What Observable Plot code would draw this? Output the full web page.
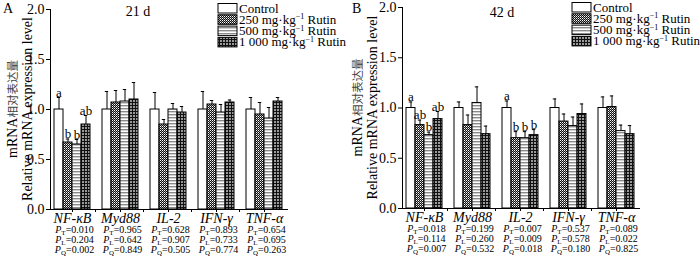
<!DOCTYPE html>
<html><head><meta charset="utf-8">
<script src="https://cdn.jsdelivr.net/npm/d3@7"></script>
<script src="https://cdn.jsdelivr.net/npm/@observablehq/plot@0.6"></script>
<style>
body{margin:0;background:#fff}
#fig{display:flex;width:700px;height:262px;overflow:hidden}
#fig svg{flex:none}
</style></head><body><div id="fig"></div>
<script>
// ---- categories ----
const genes = ["NF-κB", "Myd88", "IL-2", "IFN-γ", "TNF-α"];
const groups = ["Control", "250", "500", "1000"];
const legendDoses = ["250", "500", "1 000"];

// ---- 21 d (panel A) ----
const ctl21 = [1.00, 1.00, 1.00, 1.00, 1.00];
const ctl21Err = [0.12, 0.18, 0.17, 0.18, 0.12];
const r250_21 = [0.67, 1.07, 0.85, 1.05, 0.95];
const r250_21Err = [0.035, 0.12, 0.05, 0.04, 0.12];
const r500_21 = [0.65, 1.08, 1.00, 0.97, 0.91];
const r500_21Err = [0.05, 0.12, 0.06, 0.08, 0.11];
const r1000_21 = [0.85, 1.10, 0.97, 1.07, 1.08];
const r1000_21Err = [0.09, 0.17, 0.06, 0.025, 0.04];
const sig21 = [["a", "", "", "", ""], ["b", "", "", "", ""], ["b", "", "", "", ""], ["ab", "", "", "", ""]];
const pT21 = ["0.010", "0.965", "0.628", "0.893", "0.654"];
const pL21 = ["0.204", "0.642", "0.907", "0.733", "0.695"];
const pQ21 = ["0.002", "0.849", "0.505", "0.774", "0.263"];

// ---- 42 d (panel B) ----
const ctl42 = [1.00, 1.00, 1.00, 1.00, 1.00];
const ctl42Err = [0.06, 0.06, 0.07, 0.09, 0.11];
const r250_42 = [0.83, 0.83, 0.70, 0.865, 1.01];
const r250_42Err = [0.05, 0.10, 0.065, 0.075, 0.11];
const r500_42 = [0.73, 1.05, 0.70, 0.82, 0.77];
const r500_42Err = [0.03, 0.16, 0.065, 0.09, 0.06];
const r1000_42 = [0.89, 0.74, 0.73, 0.94, 0.74];
const r1000_42Err = [0.075, 0.08, 0.055, 0.10, 0.085];
const sig42 = [["a", "", "a", "", ""], ["ab", "", "b", "", ""], ["b", "", "b", "", ""], ["ab", "", "b", "", ""]];
const pT42 = ["0.018", "0.199", "0.007", "0.537", "0.089"];
const pL42 = ["0.114", "0.260", "0.009", "0.578", "0.022"];
const pQ42 = ["0.007", "0.532", "0.018", "0.180", "0.825"];

const yTicks = [0, 0.5, 1.0, 1.5, 2.0];
const SERIF = "'Liberation Serif','Times New Roman',serif";

function addPatterns(svg, p) {
  const defs = d3.select(svg).insert("defs", ":first-child");
  // 250: dark checker
  let pt = defs.append("pattern").attr("id", p + "250").attr("patternUnits", "userSpaceOnUse")
    .attr("width", 2).attr("height", 2).attr("shape-rendering", "crispEdges");
  pt.append("rect").attr("width", 2).attr("height", 2).attr("fill", "#111");
  pt.append("rect").attr("width", 1).attr("height", 1).attr("fill", "#fff");
  pt.append("rect").attr("x", 1).attr("y", 1).attr("width", 1).attr("height", 1).attr("fill", "#999");
  // 500: horizontal grey lines
  pt = defs.append("pattern").attr("id", p + "500").attr("patternUnits", "userSpaceOnUse")
    .attr("width", 4).attr("height", 3).attr("shape-rendering", "crispEdges");
  pt.append("rect").attr("width", 4).attr("height", 3).attr("fill", "#fff");
  pt.append("rect").attr("width", 4).attr("height", 1).attr("fill", "#8a8a8a");
  pt.append("rect").attr("y", 1).attr("width", 4).attr("height", 1).attr("fill", "#d0d0d0");
  // 1000: dark grid
  pt = defs.append("pattern").attr("id", p + "1000").attr("patternUnits", "userSpaceOnUse")
    .attr("width", 3).attr("height", 3).attr("shape-rendering", "crispEdges");
  pt.append("rect").attr("width", 3).attr("height", 3).attr("fill", "#9a9a9a");
  pt.append("rect").attr("width", 1).attr("height", 3).attr("fill", "#111");
  pt.append("rect").attr("width", 3).attr("height", 1).attr("fill", "#111");
}

function panel(o) {
  const rows = [];
  genes.forEach((g, i) => groups.forEach((k, j) =>
    rows.push({gene: g, grp: k, v: o.means[j][i], e: o.errs[j][i], lt: o.sig[j][i]})));
  const pRows = genes.map((g, i) => ({gene: g, t: "P_T=" + o.pT[i], l: "P_L=" + o.pL[i], q: "P_Q=" + o.pQ[i]}));
  const fillOf = {Control: "#ffffff", "250": `url(#${o.id}250)`, "500": `url(#${o.id}500)`, "1000": `url(#${o.id}1000)`};
  const bounds = genes.slice(0, -1).map(g => ({gene: g}));

  const svg = Plot.plot({
    width: 350, height: 262,
    marginLeft: o.ml, marginRight: o.mr, marginTop: o.mt, marginBottom: o.mb,
    style: {fontFamily: SERIF, fontSize: "14px", color: "black", background: "white", overflow: "visible"},
    fx: {domain: genes, paddingInner: 0.075, paddingOuter: 0, label: null, axis: null},
    x: {domain: groups, paddingInner: 0, paddingOuter: 0.3, axis: null},
    y: {domain: [0, 2], ticks: yTicks, tickFormat: d3.format(".1f"), tickSize: 4, tickPadding: 2, label: null, line: true},
    color: {type: "identity"},
    marks: [
      Plot.axisFx({anchor: "bottom", tickSize: 3, tickPadding: 1, label: null, fontSize: 14, fontStyle: "italic"}),
      Plot.barY(rows, {fx: "gene", x: "grp", y: "v", fill: d => fillOf[d.grp], stroke: "black", strokeWidth: 1}),
      Plot.ruleX(rows, {fx: "gene", x: "grp", y1: "v", y2: d => d.v + d.e, stroke: "black", strokeWidth: 1}),
      Plot.tickY(rows, {fx: "gene", x: "grp", y: d => d.v + d.e, stroke: "black", strokeWidth: 1, insetLeft: 2.8, insetRight: 2.8}),
      Plot.text(rows.filter(d => d.lt), {fx: "gene", x: "grp", y: d => d.v + d.e, text: "lt", dy: -1, lineAnchor: "bottom", fontSize: 13, fill: "#000"}),
      Plot.ruleY([0], {stroke: "black", strokeWidth: 1, insetLeft: -2, insetRight: -2}),
      Plot.ruleX(bounds, {fx: "gene", x: () => "1000", y1: 0, y2: -0.03, dx: 9.5, stroke: "black"}),
      Plot.text(pRows, {fx: "gene", text: "t", frameAnchor: "bottom", dy: 23, dx: 2, fontSize: 10, fill: "black"}),
      Plot.text(pRows, {fx: "gene", text: "l", frameAnchor: "bottom", dy: 33, dx: 2, fontSize: 10, fill: "black"}),
      Plot.text(pRows, {fx: "gene", text: "q", frameAnchor: "bottom", dy: 43, dx: 2, fontSize: 10, fill: "black"})
    ]
  });

  addPatterns(svg, o.id);
  const s = d3.select(svg);

  // P subscripts
  s.selectAll("text").each(function () {
    const t = this.textContent;
    const m = /^P_([TLQ])=(.*)$/.exec(t);
    if (!m) return;
    const el = d3.select(this);
    el.text(null);
    el.append("tspan").attr("font-style", "italic").text("P");
    el.append("tspan").attr("font-size", 7).attr("dy", 2.5).text(m[1]);
    el.append("tspan").attr("dy", -2.5).text("=" + m[2]);
  });

  const ann = s.append("g").attr("font-family", SERIF).attr("font-size", 14).attr("fill", "black").attr("text-anchor", "start");
  // panel letter and title
  ann.append("text").attr("x", o.letterX).attr("y", 8).attr("dy", "0.35em").text(o.letter);
  ann.append("text").attr("x", o.titleX).attr("y", o.titleY).attr("dy", "0.35em").attr("text-anchor", "middle").text(o.title);

  // y label (two lines)
  const cy = (o.mt + 262 - o.mb) / 2;
  const yl1 = ann.append("text").attr("transform", `translate(${o.ylX1},${cy}) rotate(-90)`).attr("text-anchor", "middle").attr("dy", "0.35em");
  yl1.append("tspan").text("mRNA");
  yl1.append("tspan").attr("font-family", "'Noto Sans CJK SC',sans-serif").attr("font-size", 11.5).attr("fill", "#444").text("相对表达量");
  ann.append("text").attr("transform", `translate(${o.ylX2},${cy}) rotate(-90)`).attr("text-anchor", "middle").attr("dy", "0.35em").text("Relative mRNA expression level");

  // legend
  const lg = ann.append("g").attr("font-size", 13);
  const labels = ["Control"].concat(legendDoses);
  const fills = [fillOf.Control, fillOf["250"], fillOf["500"], fillOf["1000"]];
  labels.forEach((lab, i) => {
    const y = o.legY + i * 11.3;
    lg.append("rect").attr("x", o.legX).attr("y", y - 4.5).attr("width", 19).attr("height", 9.5)
      .attr("fill", fills[i]).attr("stroke", "black").attr("stroke-width", 1);
    const t = lg.append("text").attr("x", o.legX + 21).attr("y", y).attr("dy", "0.35em");
    if (i === 0) { t.text(lab); return; }
    t.append("tspan").text(lab + " mg·kg");
    t.append("tspan").attr("font-size", 8).attr("dy", -4.5).text("−1");
    t.append("tspan").attr("dy", 4.5).text(" Rutin");
  });
  return svg;
}

const fig = document.getElementById("fig");
fig.appendChild(panel({
  id: "a", letter: "A", letterX: 3, title: "21 d", titleX: 138, titleY: 11,
  means: [ctl21, r250_21, r500_21, r1000_21], errs: [ctl21Err, r250_21Err, r500_21Err, r1000_21Err],
  sig: sig21, pT: pT21, pL: pL21, pQ: pQ21,
  ml: 50, mr: 63, mt: 9, mb: 53, ylX1: 12, ylX2: 27, legX: 218, legY: 8
}));
fig.appendChild(panel({
  id: "b", letter: "B", letterX: 2, title: "42 d", titleX: 152, titleY: 12,
  means: [ctl42, r250_42, r500_42, r1000_42], errs: [ctl42Err, r250_42Err, r500_42Err, r1000_42Err],
  sig: sig42, pT: pT42, pL: pL42, pQ: pQ42,
  ml: 52, mr: 61, mt: 7, mb: 54, ylX1: 7, ylX2: 22, legX: 222, legY: 7
}));
</script></body></html>
